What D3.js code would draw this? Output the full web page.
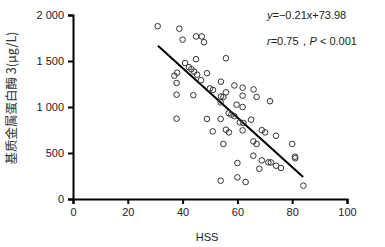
<!DOCTYPE html>
<html>
<head>
<meta charset="utf-8">
<script src="https://cdn.jsdelivr.net/npm/d3@7"></script>
<style>
	body { margin: 0; background: #fff; }
	text { font-family: "Liberation Sans", Arial, sans-serif; }
</style>
</head>
<body>
<div id="chart"></div>
<script>
// HSS score of each patient
var hss = [30.9, 38.8, 40.0, 44.9, 47.0, 47.8, 55.8, 44.9, 40.9, 42.3,
	43.2, 44.2, 45.3, 46.7, 38.0, 37.0, 37.8, 48.9, 54.0, 50.0,
	51.1, 55.8, 37.8, 43.9, 54.0, 54.9, 58.9, 61.9, 65.9, 61.9,
	67.0, 71.9, 53.9, 59.7, 61.9, 56.8, 57.8, 58.9, 37.8, 48.9,
	53.9, 60.9, 62.2, 65.0, 51.0, 55.8, 56.9, 61.9, 68.9, 70.1,
	74.1, 54.9, 65.8, 67.0, 80.0, 81.0, 81.1, 65.8, 68.9, 71.3,
	72.2, 74.1, 75.9, 68.0, 60.0, 60.0, 53.9, 63.0, 84.1];
// serum MMP-3 (ug/L)
var mmp3 = [1878, 1851, 1732, 1767, 1767, 1704, 1530, 1520, 1478, 1433,
	1411, 1384, 1351, 1291, 1373, 1340, 1261, 1367, 1275, 1202,
	1185, 1159, 1134, 1128, 1114, 1109, 1234, 1210, 1191, 1123,
	1109, 1063, 1050, 1025, 1000, 933, 916, 900, 873, 870,
	870, 833, 826, 862, 735, 753, 724, 746, 748, 724,
	688, 598, 626, 598, 598, 460, 443, 471, 420, 398,
	398, 362, 337, 329, 391, 235, 199, 185, 145];
// ends of the fitted line as drawn
var fitX = [31, 84];
var fitY = [1666, 239];

var xTicks = [0, 20, 40, 60, 80, 100];
var yTicks = [0, 500, 1000, 1500, 2000];

var margin = {top: 15, right: 38, bottom: 48, left: 73},
	width = 385 - margin.left - margin.right,
	height = 247 - margin.top - margin.bottom;

var svg = d3.select("#chart").append("svg")
	.attr("width", 385)
	.attr("height", 247)
	.append("g")
	.attr("transform", "translate(" + margin.left + "," + margin.top + ")");

var x = d3.scaleLinear().domain([0, 100]).range([0, 274]);
var y = d3.scaleLinear().domain([0, 2000]).range([184, 0]);

var fmt = function (d) {
	return d3.format(",")(d).replace(",", " ");
};

var xAxis = svg.append("g")
	.attr("transform", "translate(0," + 184 + ")")
	.call(d3.axisBottom(x).tickValues(xTicks).tickSize(5).tickPadding(4));
var yAxis = svg.append("g")
	.call(d3.axisLeft(y).tickValues(yTicks).tickFormat(fmt).tickSize(5).tickPadding(4));

[xAxis, yAxis].forEach(function (a) {
	a.select(".domain").attr("stroke", "#000").attr("stroke-width", 2);
	a.selectAll(".tick line").attr("stroke", "#000").attr("stroke-width", 2);
	a.selectAll(".tick text")
		.attr("font-size", 11)
		.attr("fill", "#222")
		.style("font-family", "'Liberation Sans', Arial, sans-serif");
});

// fitted line
svg.append("line")
	.attr("x1", x(fitX[0])).attr("y1", y(fitY[0]))
	.attr("x2", x(fitX[1])).attr("y2", y(fitY[1]))
	.attr("stroke", "#000")
	.attr("stroke-width", 2);

// points
svg.append("g")
	.selectAll("circle")
	.data(hss)
	.enter()
	.append("circle")
	.attr("cx", function (d) { return x(d); })
	.attr("cy", function (d, i) { return y(mmp3[i]); })
	.attr("r", 2.8)
	.attr("fill", "none")
	.attr("stroke", "#333")
	.attr("stroke-width", 1);

// axis titles
svg.append("text")
	.attr("x", 134)
	.attr("y", 226)
	.attr("text-anchor", "middle")
	.attr("font-size", 11)
	.attr("fill", "#222")
	.text("HSS");

svg.append("text")
	.attr("transform", "translate(-57," + 83 + ") rotate(-90)")
	.attr("text-anchor", "middle")
	.attr("font-size", 12.5)
	.attr("fill", "#333")
	.style("font-family", "'Noto Sans CJK SC', sans-serif")
	.text("基质金属蛋白酶 3(μg/L)");

// annotation
var eq = svg.append("text")
	.attr("x", 194)
	.attr("y", 4)
	.attr("font-size", 11)
	.attr("fill", "#222");
eq.append("tspan").attr("font-style", "italic").text("y");
eq.append("tspan").text("=−0.21x+73.98");

var rp = svg.append("text")
	.attr("x", 194)
	.attr("y", 30)
	.attr("font-size", 11)
	.attr("fill", "#222");
rp.append("tspan").attr("font-style", "italic").text("r");
rp.append("tspan").text("=0.75，");
rp.append("tspan").attr("font-style", "italic").text("P");
rp.append("tspan").text(" < 0.001");
</script>
</body>
</html>
